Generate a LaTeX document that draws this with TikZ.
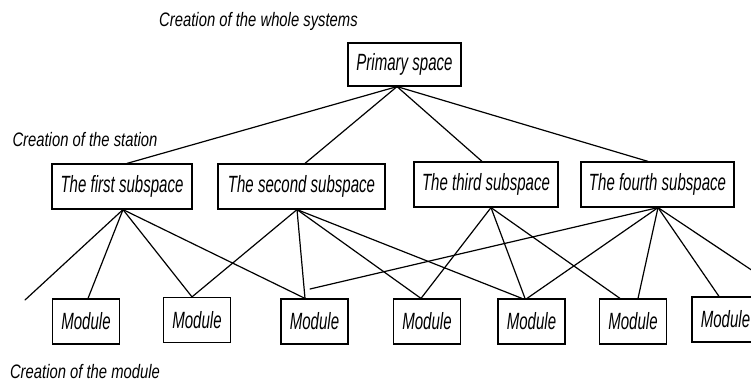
\documentclass[tikz,border=0pt]{standalone}
\usepackage{fontspec}
\setmainfont{Liberation Sans}
\newfontfamily\boxfont[FakeStretch=0.64]{Liberation Sans}
\newfontfamily\capfont[FakeStretch=0.76]{Liberation Sans}
\begin{document}
\begin{tikzpicture}[x=1pt,y=-1pt,
  box/.style={draw,line width=1.2pt,rectangle,inner sep=0pt,minimum height=45pt,
    font=\boxfont\itshape\fontsize{23.5}{23.5}\selectfont},
  modbox/.style={box,minimum width=67pt},
  caption/.style={inner sep=0pt,font=\capfont\itshape\fontsize{19.5}{19.5}\selectfont},
  link/.style={line width=1.2pt,line cap=round}]
\useasboundingbox (0,0) rectangle (751,382);
\fill[white] (0,0) rectangle (751,382);
\clip (0,0) rectangle (751,382);

% level captions
\node[caption] (capsys) at (258.5,21) {Creation of the whole systems};
\node[caption] (capsta) at (85,140) {Creation of the station};
\node[caption] (capmod) at (85,372) {Creation of the module};

% root and subspaces
\node[box,minimum width=113pt,minimum height=43pt] (P) at (404.5,64.5) {Primary space};
\node[box,minimum width=140pt] (S1) at (122,186.5) {The first subspace};
\node[box,minimum width=167pt] (S2) at (301.5,186.5) {The second subspace};
\node[box,minimum width=144pt] (S3) at (486,184.5) {The third subspace};
\node[box,minimum width=153pt] (S4) at (657.5,184.5) {The fourth subspace};

% modules
\node[modbox] (M1) at (86,321.5) {Module};
\node[modbox] (M2) at (197,320) {Module};
\node[modbox] (M3) at (314.5,321.5) {Module};
\node[modbox] (M4) at (427,321.5) {Module};
\node[modbox] (M5) at (531.5,321.5) {Module};
\node[modbox] (M6) at (633,321.5) {Module};
\node[modbox] (M7) at (725.5,319.5) {Module};

% loose ends
\coordinate (F1) at (25,300);
\coordinate (F2) at (310,289);
\coordinate (F3) at (780,289);

% root to subspaces
\coordinate (Pb) at ([xshift=-7.5pt]P.south);
\draw[link] (Pb) -- ([xshift=5pt]S1.north);
\draw[link] (Pb) -- ([xshift=3.5pt]S2.north);
\draw[link] (Pb) -- ([xshift=-4pt]S3.north);
\draw[link] (Pb) -- ([xshift=-9.5pt]S4.north);

% first subspace
\coordinate (S1b) at ([xshift=1pt]S1.south);
\draw[link] (S1b) -- (F1);
\draw[link] (S1b) -- ([xshift=2pt]M1.north);
\draw[link] (S1b) -- ([xshift=-5pt]M2.north);
\draw[link] (S1b) -- ([xshift=-9.5pt]M3.north);

% second subspace
\coordinate (S2b) at ([xshift=-4.5pt]S2.south);
\draw[link] (S2b) -- ([xshift=-5pt]M2.north);
\draw[link] (S2b) -- ([xshift=-9.5pt]M3.north);
\draw[link] (S2b) -- ([xshift=-6pt]M4.north);
\draw[link] (S2b) -- ([xshift=-9.5pt]M5.north);

% third subspace
\coordinate (S3b) at ([xshift=5pt]S3.south);
\draw[link] (S3b) -- ([xshift=-6pt]M4.north);
\draw[link] (S3b) -- ([xshift=-6.5pt]M5.north);
\draw[link] (S3b) -- ([xshift=-13pt]M6.north);

% fourth subspace
\coordinate (S4b) at ([xshift=0.5pt]S4.south);
\draw[link] (S4b) -- (F2);
\draw[link] (S4b) -- ([xshift=-4.5pt]M5.north);
\draw[link] (S4b) -- ([xshift=5pt]M6.north);
\draw[link] (S4b) -- ([xshift=-6.5pt]M7.north);
\draw[link] (S4b) -- (F3);
\end{tikzpicture}
\end{document}
